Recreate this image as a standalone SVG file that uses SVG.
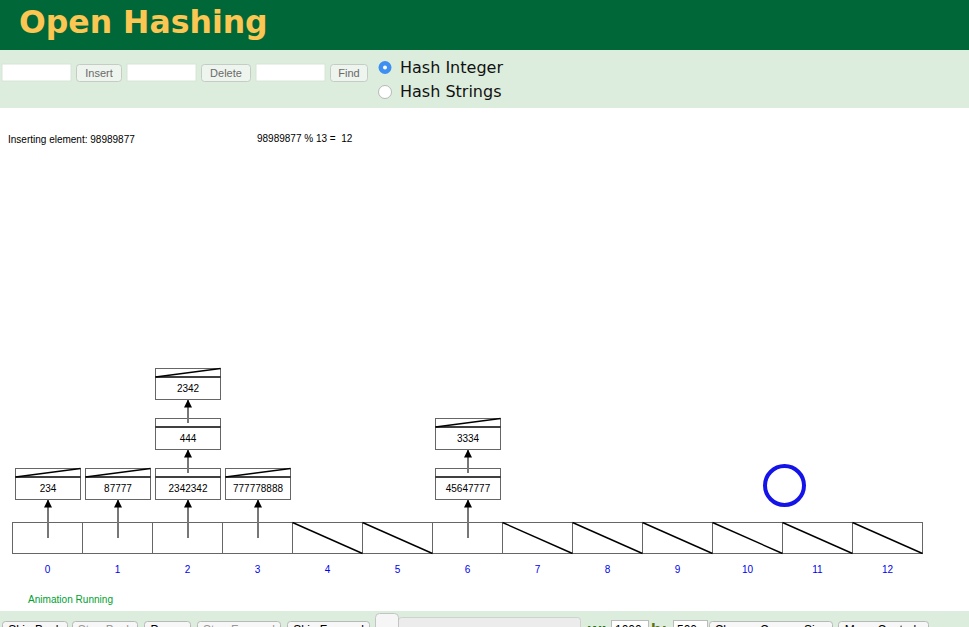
<svg xmlns="http://www.w3.org/2000/svg" width="969" height="627" viewBox="0 0 969 627">
<style>
text{font-family:"Liberation Sans",Arial,sans-serif}
.title{font-family:"DejaVu Sans",Verdana,sans-serif;font-weight:bold;font-size:31.5px;fill:#fcc653}
.inp{fill:#ffffff;stroke:#d8e4d8;stroke-width:1}
.btn{fill:#eef4ee;stroke:#c4ccc4;stroke-width:1}
.btxt{font-size:11px;fill:#6a6a6a;text-anchor:middle}
.radio{font-family:"DejaVu Sans",Verdana,sans-serif;font-size:16px;fill:#111}
.msg{font-size:10px;fill:#000}
.cell{fill:#fff;stroke:#666;stroke-width:1}
.null{stroke:#000;stroke-width:1.4}
.nbox{fill:#fff;stroke:#666;stroke-width:1}
.ndiv{stroke:#000;stroke-width:1.3}
.ntxt{font-size:10px;fill:#000;text-anchor:middle}
.idx{font-size:10px;fill:#0000ee;text-anchor:middle}
.arr{stroke:#777;stroke-width:2;fill:none;marker-end:url(#ah)}
.bbtn{fill:#f7f7f7;stroke:#b8b8b8;stroke-width:1}
.bt{font-size:12px;fill:#000;text-anchor:middle}
.bt.dis{fill:#999}
</style>
<defs>
<marker id="ah" viewBox="0 0 8 8" refX="8" refY="4" markerWidth="8" markerHeight="8" markerUnits="userSpaceOnUse" orient="auto">
<path d="M0,0 L8,4 L0,8 z" fill="#000"/>
</marker>
</defs>
<rect x="0" y="0" width="969" height="627" fill="#fff"/>
<g id="header">
<rect x="0" y="0" width="969" height="50" fill="#006838"/>
<text class="title" x="19" y="33">Open Hashing</text>
</g>
<g id="toolbar">
<rect x="0" y="50" width="969" height="58" fill="#ddeddd"/>
<rect class="inp" x="2" y="64" width="69" height="17"/>
<rect class="btn" x="76.5" y="64.5" width="45" height="17" rx="3"/>
<text class="btxt" x="99" y="77">Insert</text>
<rect class="inp" x="127" y="64" width="69" height="17"/>
<rect class="btn" x="201.5" y="64.5" width="49" height="17" rx="3"/>
<text class="btxt" x="226" y="77">Delete</text>
<rect class="inp" x="256" y="64" width="69" height="17"/>
<rect class="btn" x="330.5" y="64.5" width="37" height="17" rx="3"/>
<text class="btxt" x="349" y="77">Find</text>
<circle cx="385" cy="67.5" r="6.5" fill="#3d8ff2"/>
<circle cx="385" cy="67.5" r="2" fill="#fff"/>
<text class="radio" x="400" y="72.5">Hash Integer</text>
<circle cx="385" cy="92" r="6.5" fill="#fff" stroke="#aaa" stroke-width="0.8"/>
<text class="radio" x="400" y="97">Hash Strings</text>
</g>
<g id="messages">
<text class="msg" x="8" y="143">Inserting element: 98989877</text>
<text class="msg" x="257" y="142" xml:space="preserve">98989877 % 13 =  12</text>
</g>
<g id="hash-table">
<rect class="cell" x="12.5" y="522.5" width="70" height="31"/>
<rect class="cell" x="82.5" y="522.5" width="70" height="31"/>
<rect class="cell" x="152.5" y="522.5" width="70" height="31"/>
<rect class="cell" x="222.5" y="522.5" width="70" height="31"/>
<rect class="cell" x="292.5" y="522.5" width="70" height="31"/>
<rect class="cell" x="362.5" y="522.5" width="70" height="31"/>
<rect class="cell" x="432.5" y="522.5" width="70" height="31"/>
<rect class="cell" x="502.5" y="522.5" width="70" height="31"/>
<rect class="cell" x="572.5" y="522.5" width="70" height="31"/>
<rect class="cell" x="642.5" y="522.5" width="70" height="31"/>
<rect class="cell" x="712.5" y="522.5" width="70" height="31"/>
<rect class="cell" x="782.5" y="522.5" width="70" height="31"/>
<rect class="cell" x="852.5" y="522.5" width="70" height="31"/>
<line class="null" x1="292.5" y1="522.5" x2="362.5" y2="553.5"/>
<line class="null" x1="362.5" y1="522.5" x2="432.5" y2="553.5"/>
<line class="null" x1="502.5" y1="522.5" x2="572.5" y2="553.5"/>
<line class="null" x1="572.5" y1="522.5" x2="642.5" y2="553.5"/>
<line class="null" x1="642.5" y1="522.5" x2="712.5" y2="553.5"/>
<line class="null" x1="712.5" y1="522.5" x2="782.5" y2="553.5"/>
<line class="null" x1="782.5" y1="522.5" x2="852.5" y2="553.5"/>
<line class="null" x1="852.5" y1="522.5" x2="922.5" y2="553.5"/>
<text class="idx" x="47.5" y="572.5">0</text>
<text class="idx" x="117.5" y="572.5">1</text>
<text class="idx" x="187.5" y="572.5">2</text>
<text class="idx" x="257.5" y="572.5">3</text>
<text class="idx" x="327.5" y="572.5">4</text>
<text class="idx" x="397.5" y="572.5">5</text>
<text class="idx" x="467.5" y="572.5">6</text>
<text class="idx" x="537.5" y="572.5">7</text>
<text class="idx" x="607.5" y="572.5">8</text>
<text class="idx" x="677.5" y="572.5">9</text>
<text class="idx" x="747.5" y="572.5">10</text>
<text class="idx" x="817.5" y="572.5">11</text>
<text class="idx" x="887.5" y="572.5">12</text>
</g>
<g id="node-234">
<rect class="nbox" x="15.5" y="468.5" width="65" height="31"/>
<line class="ndiv" x1="15.5" y1="477" x2="80.5" y2="477"/>
<line class="ndiv" x1="15.5" y1="477" x2="80.5" y2="468.5"/>
<text class="ntxt" x="48" y="492">234</text>
</g>
<g id="node-87777">
<rect class="nbox" x="85.5" y="468.5" width="65" height="31"/>
<line class="ndiv" x1="85.5" y1="477" x2="150.5" y2="477"/>
<line class="ndiv" x1="85.5" y1="477" x2="150.5" y2="468.5"/>
<text class="ntxt" x="118" y="492">87777</text>
</g>
<g id="node-2342342">
<rect class="nbox" x="155.5" y="468.5" width="65" height="31"/>
<line class="ndiv" x1="155.5" y1="477" x2="220.5" y2="477"/>
<text class="ntxt" x="188" y="492">2342342</text>
</g>
<g id="node-444">
<rect class="nbox" x="155.5" y="418.5" width="65" height="31"/>
<line class="ndiv" x1="155.5" y1="427" x2="220.5" y2="427"/>
<text class="ntxt" x="188" y="442">444</text>
</g>
<g id="node-2342">
<rect class="nbox" x="155.5" y="368.5" width="65" height="31"/>
<line class="ndiv" x1="155.5" y1="377" x2="220.5" y2="377"/>
<line class="ndiv" x1="155.5" y1="377" x2="220.5" y2="368.5"/>
<text class="ntxt" x="188" y="392">2342</text>
</g>
<g id="node-777778888">
<rect class="nbox" x="225.5" y="468.5" width="65" height="31"/>
<line class="ndiv" x1="225.5" y1="477" x2="290.5" y2="477"/>
<line class="ndiv" x1="225.5" y1="477" x2="290.5" y2="468.5"/>
<text class="ntxt" x="258" y="492">777778888</text>
</g>
<g id="node-45647777">
<rect class="nbox" x="435.5" y="468.5" width="65" height="31"/>
<line class="ndiv" x1="435.5" y1="477" x2="500.5" y2="477"/>
<text class="ntxt" x="468" y="492">45647777</text>
</g>
<g id="node-3334">
<rect class="nbox" x="435.5" y="418.5" width="65" height="31"/>
<line class="ndiv" x1="435.5" y1="427" x2="500.5" y2="427"/>
<line class="ndiv" x1="435.5" y1="427" x2="500.5" y2="418.5"/>
<text class="ntxt" x="468" y="442">3334</text>
</g>
<g id="connectors">
<line class="arr" x1="48" y1="538" x2="48" y2="499.5"/>
<line class="arr" x1="118" y1="538" x2="118" y2="499.5"/>
<line class="arr" x1="188" y1="538" x2="188" y2="499.5"/>
<line class="arr" x1="258" y1="538" x2="258" y2="499.5"/>
<line class="arr" x1="468" y1="538" x2="468" y2="499.5"/>
<line class="arr" x1="188" y1="473" x2="188" y2="449.5"/>
<line class="arr" x1="188" y1="423" x2="188" y2="399.5"/>
<line class="arr" x1="468" y1="473" x2="468" y2="449.5"/>
</g>
<g id="highlight">
<circle cx="784.5" cy="485.5" r="19.5" fill="none" stroke="#1414e8" stroke-width="4"/>
</g>
<g id="status">
<text x="28" y="603" font-size="10" fill="#00a032" textLength="85" lengthAdjust="spacingAndGlyphs">Animation Running</text>
</g>
<g id="bottom-controls">
<rect x="0" y="611" width="969" height="16" fill="#ddeddd"/>
<rect class="bbtn" x="2.5" y="621.5" width="65" height="20" rx="3"/>
<text class="bt" x="35" y="633.5">Skip Back</text>
<rect class="bbtn" x="72.5" y="621.5" width="65" height="20" rx="3"/>
<text class="bt dis" x="105" y="633.5">Step Back</text>
<rect class="bbtn" x="144.5" y="621.5" width="46" height="20" rx="3"/>
<text class="bt" x="167.5" y="633.5">Pause</text>
<rect class="bbtn" x="197.5" y="621.5" width="83" height="20" rx="3"/>
<text class="bt dis" x="239" y="633.5">Step Forward</text>
<rect class="bbtn" x="287.5" y="621.5" width="82" height="20" rx="3"/>
<text class="bt" x="328.5" y="633.5">Skip Forward</text>
<rect x="398.5" y="617.5" width="182" height="20" rx="3" fill="#ececec" stroke="#d0d0d0"/>
<rect x="375.5" y="613.5" width="23" height="25" rx="4" fill="#f6f6f6" stroke="#c4c4c4"/>
<text x="588" y="635" font-size="17" font-weight="bold" fill="#2f6e1c">w:</text>
<rect x="611.5" y="620.5" width="37" height="20" fill="#fff" stroke="#bbb"/>
<text x="615" y="634" font-size="12" fill="#000">1000</text>
<text x="651" y="635" font-size="17" font-weight="bold" fill="#5e6e18">h:</text>
<rect x="673.5" y="620.5" width="34" height="20" fill="#fff" stroke="#bbb"/>
<text x="677" y="634" font-size="12" fill="#000">500</text>
<rect class="bbtn" x="709.5" y="621.5" width="123" height="20" rx="3"/>
<text class="bt" x="771" y="633.5">Change Canvas Size</text>
<rect class="bbtn" x="838.5" y="621.5" width="90" height="20" rx="3"/>
<text class="bt" x="883.5" y="633.5">Move Controls</text>
</g>
</svg>
